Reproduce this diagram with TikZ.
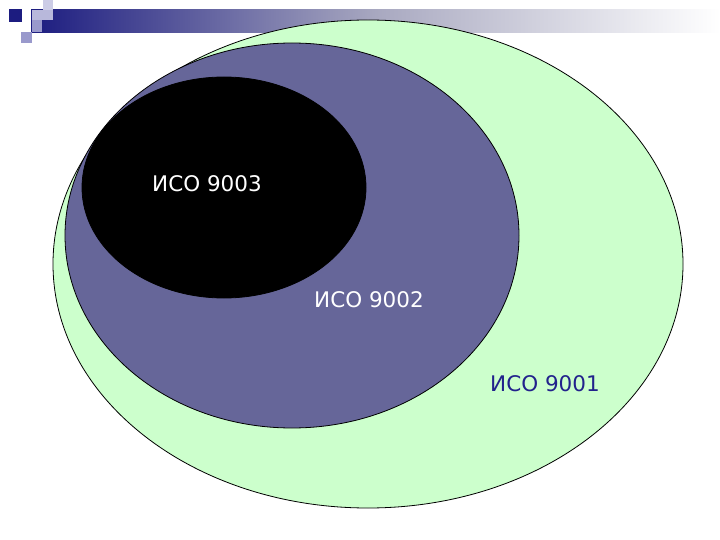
\documentclass[tikz,border=0pt]{standalone}
\usepackage{fontspec}
\setmainfont{DejaVu Sans}
\usetikzlibrary{shapes.geometric}
\definecolor{isogreen}{HTML}{CCFFCC}
\definecolor{isopurple}{HTML}{666699}
\definecolor{isonavy}{HTML}{1C1C80}
\definecolor{isolabel}{HTML}{22228C}
\definecolor{isolav}{HTML}{9999CC}
\definecolor{isogray}{HTML}{A8A8C0}
\definecolor{isopale}{HTML}{CCCCE6}

\begin{document}
\begin{tikzpicture}[x=1pt,y=-1pt,
  layer/.style = {ellipse, draw=black, line width=0.8pt, inner sep=0pt},
  isotext/.style = {font=\fontsize{21.5}{24}\selectfont, inner sep=0pt}]
  \useasboundingbox[fill=white] (0,0) rectangle (720,540);
  % title bar and squares
  \shade[left color=isonavy, right color=white, middle color=isogray] (31,10) rectangle (720,33);
  \fill[isopale] (43,0) rectangle (53,10);
  \fill[isolav!70!white] (32,10) rectangle (53,20);
  \fill[isolav] (32,20) rectangle (42,32);
  \fill[isolav] (21,32) rectangle (32,43);
  \fill[isonavy] (9,9) rectangle (22,22);
  % layers
  \node[layer, fill=isogreen, minimum width=630pt, minimum height=488pt] (iso9001) at (368,264) {};
  \node[layer, fill=isopurple, minimum width=454pt, minimum height=385pt] (iso9002) at (292,235.5) {};
  \node[layer, fill=black, minimum width=284pt, minimum height=221pt] (iso9003) at (224,187.5) {};
  % labels
  \node[isotext, text=white] (t9003) at (207,184) {ИСО 9003};
  \node[isotext, text=white] (t9002) at (369,300) {ИСО 9002};
  \node[isotext, text=isolabel] (t9001) at (545,384) {ИСО 9001};
\end{tikzpicture}
\end{document}
